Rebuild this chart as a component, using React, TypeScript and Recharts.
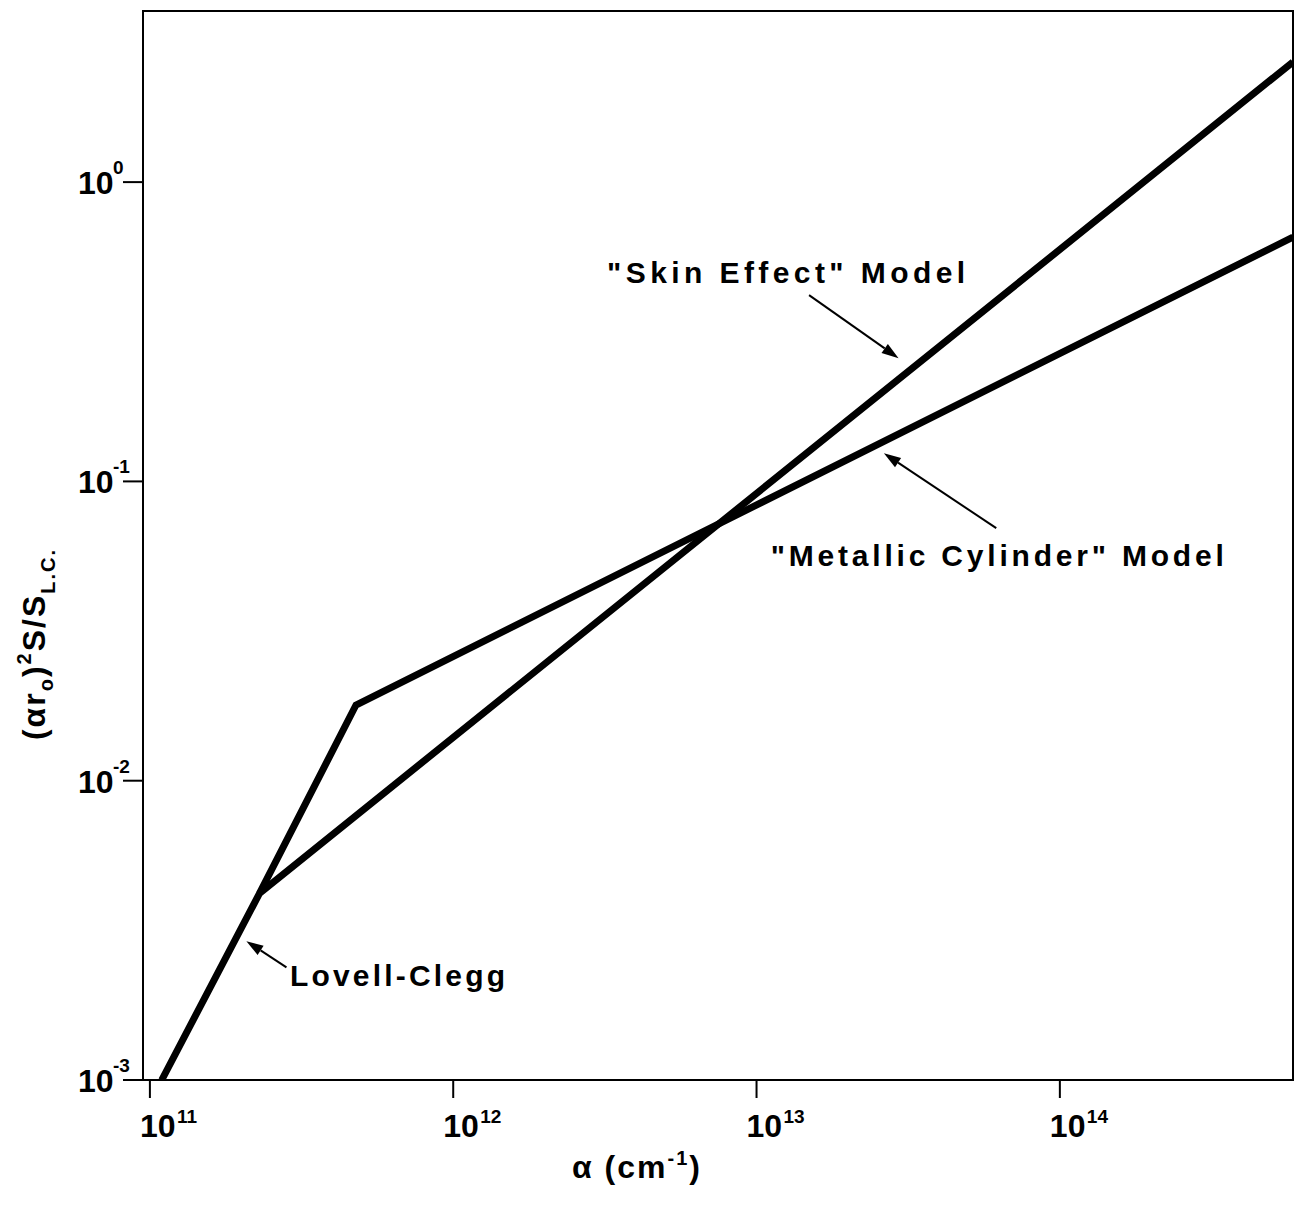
import React from 'react';
import { LineChart, Line, XAxis, YAxis, ReferenceLine, ReferenceArea } from 'recharts';

// absorption coefficient alpha (cm^-1) and (alpha r0)^2 S/S_LC
const skinAlpha = [1.094e11, 2.3e11, 5.87e14];
const skinRatio = [1e-3, 4.21e-3, 2.52];
const metalAlpha = [2.3e11, 4.78e11, 5.87e14];
const metalRatio = [4.21e-3, 0.0179, 0.655];

const xTicks = [1e11, 1e12, 1e13, 1e14];
const yTicks = [1e-3, 1e-2, 1e-1, 1];
const xDomain = [9.49e10, 5.87e14];
const yDomain = [1e-3, 3.73];

const noteTexts = ['"Skin Effect" Model', '"Metallic Cylinder" Model', 'Lovell-Clegg'];
const noteTails = [[1.49e13, 0.419], [6.17e13, 0.0698], [2.82e11, 2.38e-3]];
const noteTips = [[2.94e13, 0.258], [2.63e13, 0.1243], [2.08e11, 2.91e-3]];

const skinData = skinAlpha.map((x, i) => ({ x, y: skinRatio[i] }));
const metalData = metalAlpha.map((x, i) => ({ x, y: metalRatio[i] }));

const FONT = '"Liberation Sans", Arial, sans-serif';

// text placement relative to arrow tail, plus width to stretch lettering to
const notePlace = [
  { dx: -23, dy: -12, len: 358 },
  { dx: 1, dy: 38, len: 453 },
  { dx: 111, dy: 19, len: 215 },
];

const exp = (v: number) => String(Math.round(Math.log10(v)));

const XTick = (props: any) => {
  const { x, y, payload } = props;
  const sx = x - 10;
  return (
    <g fontFamily={FONT} fontWeight="bold" fill="#000">
      <text x={sx} y={y + 39} fontSize={32}>10</text>
      <text x={sx + 37} y={y + 25} fontSize={19}>{exp(payload.value)}</text>
    </g>
  );
};

const YTick = (props: any) => {
  const { x, y, payload } = props;
  const sx = x - 45;
  return (
    <g fontFamily={FONT} fontWeight="bold" fill="#000">
      <text x={sx} y={y + 12} fontSize={32}>10</text>
      <text x={sx + 35} y={y - 8} fontSize={19}>{exp(payload.value)}</text>
    </g>
  );
};

const Arrow = (props: any) => {
  const { x1, y1, x2, y2, text, place } = props;
  const ang = Math.atan2(y2 - y1, x2 - x1);
  const L = 17;
  const W = 5.5;
  const bx = x2 - L * Math.cos(ang);
  const by = y2 - L * Math.sin(ang);
  const px = -Math.sin(ang) * W;
  const py = Math.cos(ang) * W;
  return (
    <g>
      <line x1={x1} y1={y1} x2={bx} y2={by} stroke="#000" strokeWidth={2} />
      <polygon points={`${x2},${y2} ${bx + px},${by + py} ${bx - px},${by - py}`} fill="#000" />
      <text
        x={x1 + place.dx}
        y={y1 + place.dy}
        textAnchor="middle"
        fontFamily={FONT}
        fontWeight="bold"
        fontSize={30}
        textLength={place.len}
        lengthAdjust="spacing"
        fill="#000"
      >
        {text}
      </text>
    </g>
  );
};

const YLabel = () => {
  const cx = 45;
  const cy = 644;
  return (
    <text
      x={cx}
      y={cy}
      transform={`rotate(-90, ${cx}, ${cy})`}
      textAnchor="middle"
      fontFamily={FONT}
      fontWeight="bold"
      fontSize={32}
      letterSpacing={2}
      fill="#000"
    >
      <tspan>(αr</tspan>
      <tspan fontSize={20} dy={8}>o</tspan>
      <tspan dy={-8}>)</tspan>
      <tspan fontSize={20} dy={-14}>2</tspan>
      <tspan dy={14}>S/S</tspan>
      <tspan fontSize={20} dy={10}>L.C.</tspan>
    </text>
  );
};

const XLabel = () => {
  return (
    <text x={637} y={1178} textAnchor="middle" fontFamily={FONT} fontWeight="bold" fontSize={32} letterSpacing={2} fill="#000">
      <tspan>α (cm</tspan>
      <tspan fontSize={20} dy={-13}>-1</tspan>
      <tspan dy={13}>)</tspan>
    </text>
  );
};

export default function App() {
  return (
    <div style={{ width: 1302, height: 1200, margin: '-8px 0 0 -8px', background: '#fff' }}>
      <LineChart width={1302} height={1200} margin={{ top: 11, right: 9, bottom: 0, left: 0 }}>
        <XAxis
          type="number"
          dataKey="x"
          scale="log"
          domain={xDomain}
          allowDataOverflow
          ticks={xTicks}
          tick={<XTick />}
          tickSize={18}
          tickMargin={0}
          height={120}
          axisLine={{ stroke: '#000', strokeWidth: 2 }}
          tickLine={{ stroke: '#000', strokeWidth: 2 }}
          label={{ content: <XLabel /> }}
        />
        <YAxis
          type="number"
          dataKey="y"
          scale="log"
          domain={yDomain}
          allowDataOverflow
          ticks={yTicks}
          tick={<YTick />}
          tickSize={20}
          tickMargin={0}
          width={143}
          axisLine={{ stroke: '#000', strokeWidth: 2 }}
          tickLine={{ stroke: '#000', strokeWidth: 2 }}
          label={{ content: <YLabel /> }}
        />
        <ReferenceArea
          x1={xDomain[0]}
          x2={xDomain[1]}
          y1={yDomain[0]}
          y2={yDomain[1]}
          fill="none"
          stroke="#000"
          strokeWidth={2}
          ifOverflow="visible"
        />
        <Line data={skinData} dataKey="y" stroke="#000" strokeWidth={7} dot={false} isAnimationActive={false} />
        <Line data={metalData} dataKey="y" stroke="#000" strokeWidth={7} dot={false} isAnimationActive={false} />
        {noteTexts.map((t, i) => (
          <ReferenceLine
            key={t}
            segment={[
              { x: noteTails[i][0], y: noteTails[i][1] },
              { x: noteTips[i][0], y: noteTips[i][1] },
            ]}
            ifOverflow="visible"
            shape={(p: any) => <Arrow {...p} text={t} place={notePlace[i]} />}
          />
        ))}
      </LineChart>
    </div>
  );
}
